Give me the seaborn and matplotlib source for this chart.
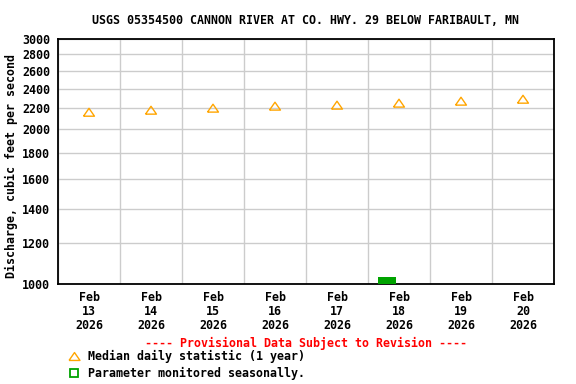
import pandas as pd
import numpy as np
import matplotlib
matplotlib.use('Agg')
import matplotlib.pyplot as plt
from matplotlib.lines import Line2D
from matplotlib.ticker import FixedLocator, NullLocator
import seaborn as sns

# Data
median_dates = ['2026-02-13 12:00', '2026-02-14 12:00', '2026-02-15 12:00', '2026-02-16 12:00',
                '2026-02-17 12:00', '2026-02-18 12:00', '2026-02-19 12:00', '2026-02-20 12:00']
median_cfs = [2160, 2180, 2200, 2220, 2230, 2250, 2270, 2290]
tick_labels = ['Feb\n13\n2026', 'Feb\n14\n2026', 'Feb\n15\n2026', 'Feb\n16\n2026',
               'Feb\n17\n2026', 'Feb\n18\n2026', 'Feb\n19\n2026', 'Feb\n20\n2026']
day_edges = ['2026-02-13', '2026-02-14', '2026-02-15', '2026-02-16', '2026-02-17',
             '2026-02-18', '2026-02-19', '2026-02-20', '2026-02-21']
seasonal_start = ['2026-02-18 04:00']
seasonal_end = ['2026-02-18 10:45']
seasonal_top = [1032]
y_ticks = [1000, 1200, 1400, 1600, 1800, 2000, 2200, 2400, 2600, 2800, 3000]

title = 'USGS 05354500 CANNON RIVER AT CO. HWY. 29 BELOW FARIBAULT, MN'
ylabel = 'Discharge, cubic feet per second'

sns.set_style('white')
plt.rcParams['font.family'] = ['DejaVu Sans Mono']
plt.rcParams['font.weight'] = 'bold'
for key in ['text.color', 'axes.labelcolor', 'xtick.color', 'ytick.color']:
    plt.rcParams[key] = 'black'
FS = 8.4

df = pd.DataFrame({'date': pd.to_datetime(median_dates), 'cfs': median_cfs})
edges = pd.to_datetime(day_edges)

fig = plt.figure(figsize=(5.76, 3.84), dpi=100)
ax = fig.add_axes([58 / 576, 1 - 284 / 384, 496 / 576, 245 / 384])

tri = [(-1, -0.72), (1, -0.72), (0, 0.72), (-1, -0.72)]

# seasonal monitoring bar
s0 = pd.to_datetime(seasonal_start)
s1 = pd.to_datetime(seasonal_end)
ax.bar(s0, np.array(seasonal_top) - 1000, width=(s1 - s0) / pd.Timedelta(days=1),
       bottom=1000, align='edge', color='#00A300', edgecolor='none', zorder=3)

sns.scatterplot(data=df, x='date', y='cfs', ax=ax, marker=tri, s=62,
                color='#FFA500', facecolor='none', edgecolor='#FFA500', linewidth=1.0, zorder=4)

ax.set_yscale('log')
ax.set_ylim(1000, 3000)
ax.yaxis.set_major_locator(FixedLocator(y_ticks))
ax.yaxis.set_minor_locator(NullLocator())
ax.set_yticklabels([str(v) for v in y_ticks], fontsize=FS, fontweight='bold')

ax.set_xlim(edges[0], edges[-1])
ax.set_xticks(df['date'])
ax.set_xticklabels(tick_labels, fontsize=FS, fontweight='bold', linespacing=1.12)
ax.set_xticks(edges, minor=True)
ax.tick_params(axis='both', which='both', length=0)
ax.tick_params(axis='x', pad=5)
ax.tick_params(axis='y', pad=5.5)

ax.grid(False)
ax.grid(True, axis='y', which='major', color='#CCCCCC', linewidth=1.0)
ax.grid(True, axis='x', which='minor', color='#CCCCCC', linewidth=1.0)
ax.set_axisbelow(True)
for sp in ax.spines.values():
    sp.set_color('black')
    sp.set_linewidth(1.3)

ax.set_xlabel('')
ax.set_ylabel(ylabel, fontsize=FS, fontweight='bold')
ax.yaxis.set_label_coords(-0.081, 0.48)

fig.text(306 / 576, 1 - 20 / 384, title, ha='center', va='center', fontsize=FS, fontweight='bold')
fig.text(306 / 576, 1 - 343 / 384, '---- Provisional Data Subject to Revision ----',
         ha='center', va='center', fontsize=FS, fontweight='bold', color='red')

handles = [
    Line2D([], [], linestyle='', marker=tri, markersize=7.9, markerfacecolor='none',
           markeredgecolor='#FFA500', markeredgewidth=1.0),
    Line2D([], [], linestyle='', marker='s', markersize=5.8, markerfacecolor='none',
           markeredgecolor='#00A300', markeredgewidth=1.3),
]
fig.legend(handles, ['Median daily statistic (1 year)', 'Parameter monitored seasonally.'],
           loc='upper left', bbox_to_anchor=(68 / 576, 1 - 350 / 384), frameon=False,
           prop={'size': FS, 'weight': 'bold'}, handlelength=1.0, handletextpad=0.75,
           labelspacing=0.35, borderpad=0, borderaxespad=0)

fig.savefig('out.png', dpi=100)
